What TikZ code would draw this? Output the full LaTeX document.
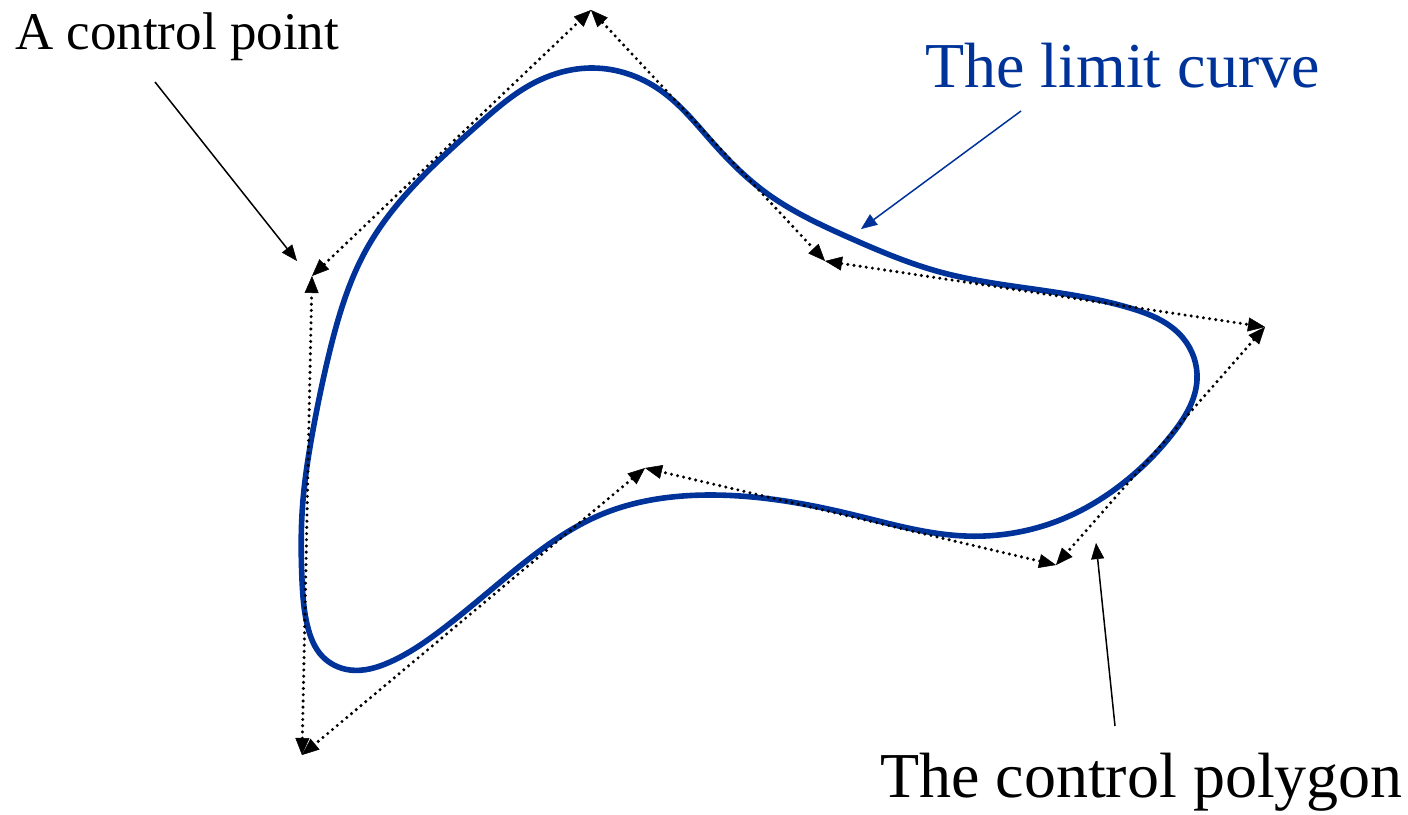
\documentclass[tikz,border=0pt]{standalone}
\usepackage{fontspec}
\setmainfont{Liberation Serif}
\usetikzlibrary{arrows.meta,hobby}
\definecolor{curveblue}{RGB}{0,51,153}
\tikzset{
  ctrlpoly/.style={line width=3.4pt, dash pattern=on 0pt off 6.2pt, line cap=round,
    {Triangle[length=17pt,width=14pt,line width=0.5pt]}-{Triangle[length=17pt,width=14pt,line width=0.5pt]}},
  annot/.style={line width=1.5pt, -{Triangle[length=16pt,width=13pt,line width=0.5pt]}},
  limitcurve/.style={curveblue, line width=5.6pt},
  label/.style={anchor=base west, inner sep=0pt, font=\fontsize{64}{70}\selectfont}
}
\begin{document}
\begin{tikzpicture}[x=1pt,y=-1pt]
\useasboundingbox (0,0) rectangle (1408,814);
% control points
\coordinate (p1) at (591,10);
\coordinate (p2) at (825,261);
\coordinate (p3) at (1265,327);
\coordinate (p4) at (1056,565);
\coordinate (p5) at (645,468);
\coordinate (p6) at (302,755);
\coordinate (p7) at (312,276);
% limit curve
\draw[limitcurve, use Hobby shortcut, closed=true]
 (593,68) .. (660,90) .. (713,143) .. (765,192) .. (850,238) .. (940,272)
 .. (1040,290) .. (1130,308) .. (1183,338) .. (1197,380) .. (1173,433)
 .. (1127,480) .. (1060,520) .. (965,536) .. (850,514) .. (710,495)
 .. (600,515) .. (520,566) .. (440,631) .. (390,662) .. (350,670)
 .. (322,656) .. (308,628) .. (302,580)
 .. (303,500) .. (313,430) .. (330,350) .. (366,250) .. (425,174)
 .. (480,123) .. (530,85);
% control polygon
\draw[ctrlpoly] (p7) -- (p1);
\draw[ctrlpoly] (p1) -- (p2);
\draw[ctrlpoly] (p2) -- (p3);
\draw[ctrlpoly] (p3) -- (p4);
\draw[ctrlpoly] (p4) -- (p5);
\draw[ctrlpoly] (p5) -- (p6);
\draw[ctrlpoly] (p6) -- (p7);
% labels
\node[label, font=\fontsize{53}{60}\selectfont] (tcp) at (15,49) {A control point};
\node[label, text=curveblue] (tlc) at (925,87) {The limit curve};
\node[label] (tpoly) at (880,797) {The control polygon};
% annotation arrows
\coordinate (cpS) at (155,82);
\coordinate (cpE) at (297,261);
\coordinate (lcS) at (1021,111);
\coordinate (lcE) at (861,229);
\coordinate (plS) at (1115,726);
\coordinate (plE) at (1096,543);
\draw[annot] (cpS) -- (cpE);
\draw[annot, curveblue] (lcS) -- (lcE);
\draw[annot] (plS) -- (plE);
\end{tikzpicture}
\end{document}
